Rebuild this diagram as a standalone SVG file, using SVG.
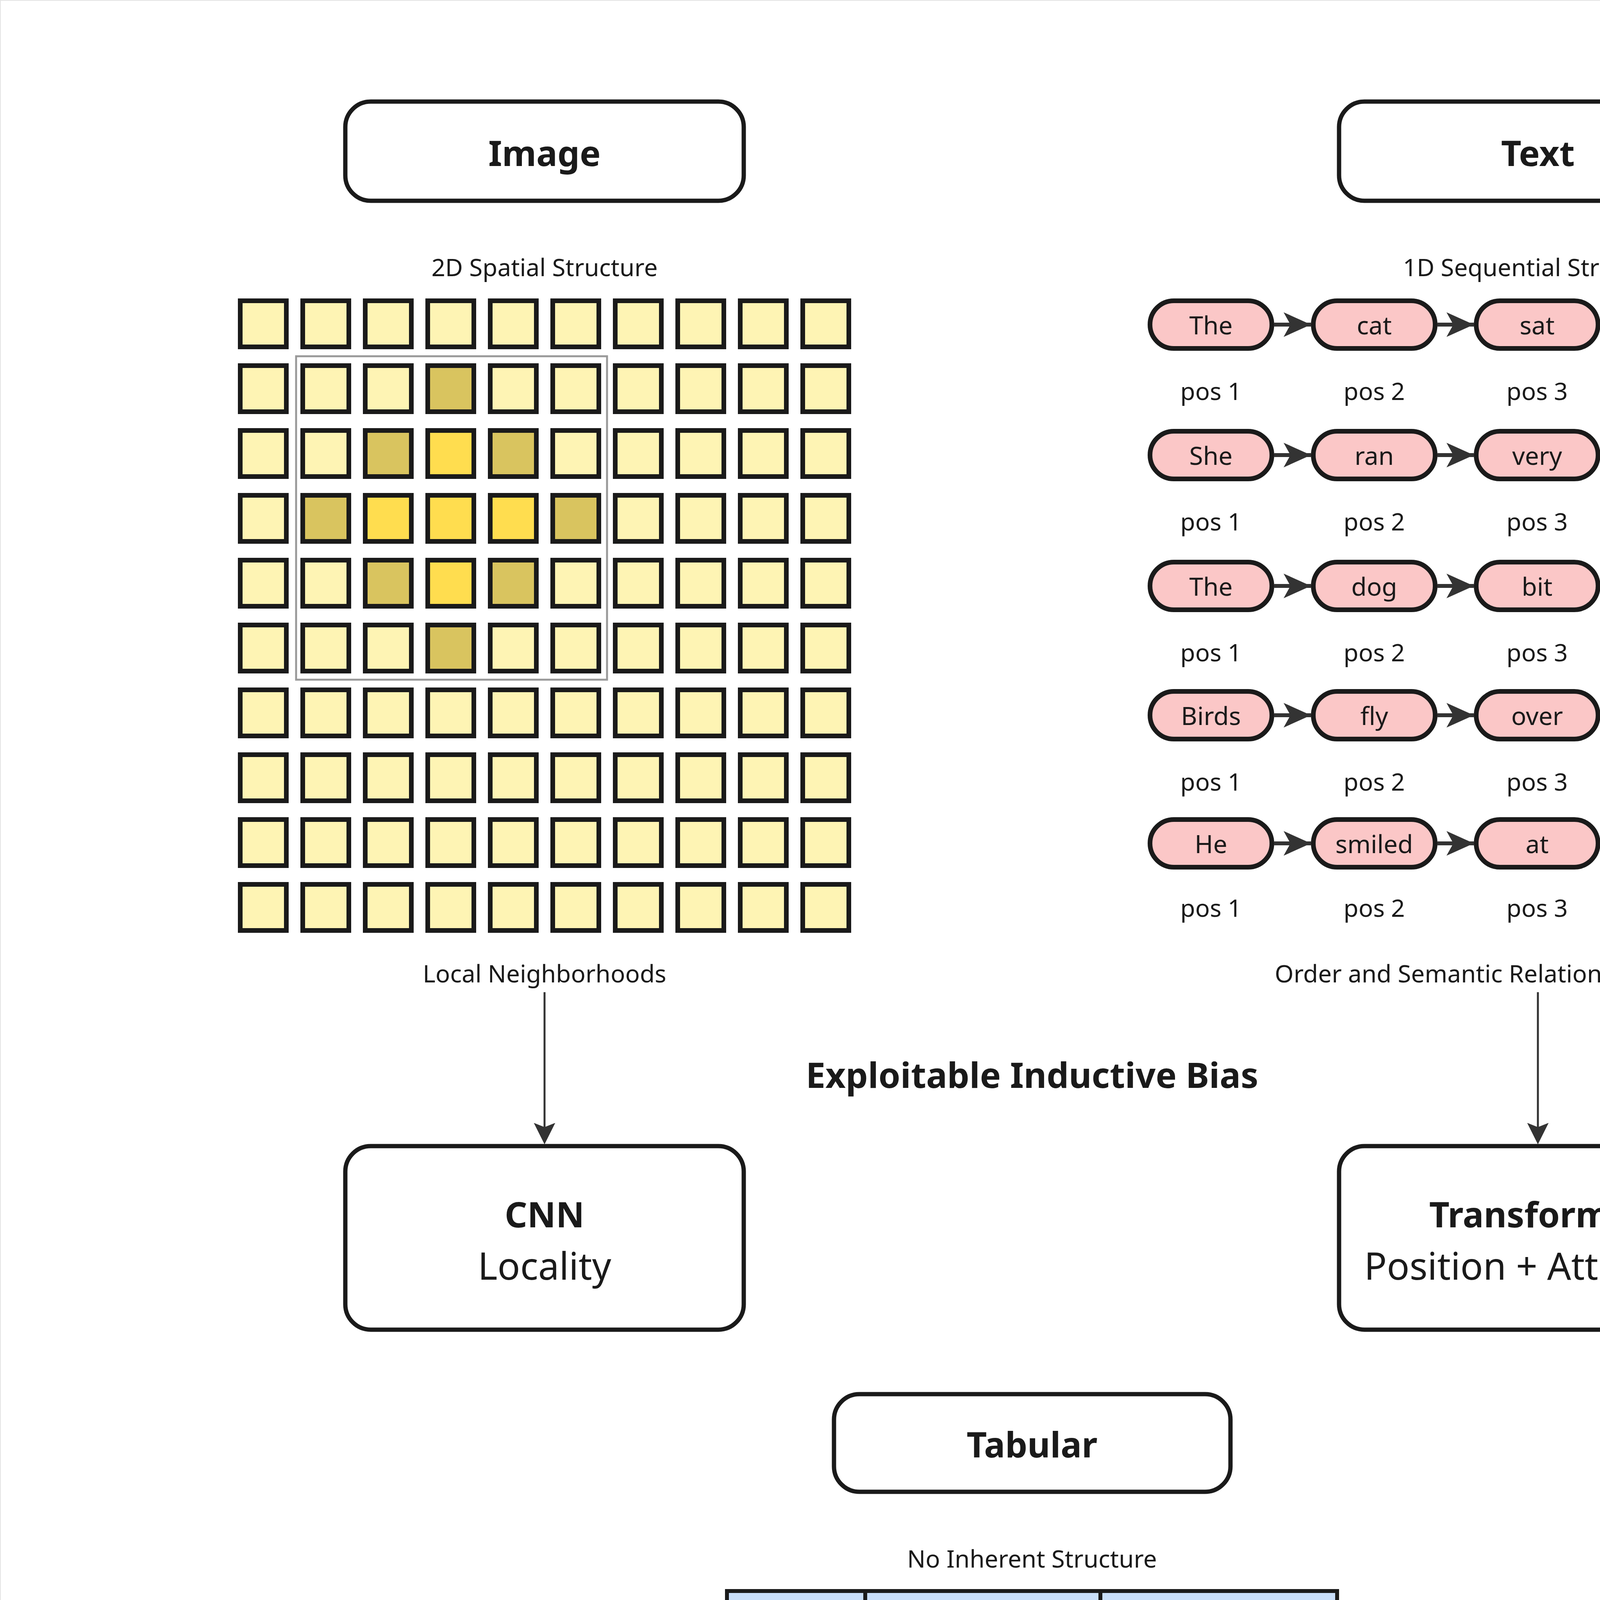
<svg xmlns="http://www.w3.org/2000/svg" width="5277" height="5222" viewBox="0 0 5277 5222">
<style>
text{font-family:"Noto Sans","Open Sans","Liberation Sans",sans-serif;fill:#1a1a1a;text-anchor:middle;dominant-baseline:central}
.box{fill:#fff;stroke:#1a1a1a;stroke-width:11}
.title{font-size:90px;font-weight:700}
.lbl{font-size:62px}
.big{font-size:96px}
.c{stroke:#1a1a1a;stroke-width:12}
.l{fill:#FEF4B4}.d{fill:#D9C45F}.b{fill:#FFDD4F}
.pill{fill:#FBC7C7;stroke:#1a1a1a;stroke-width:12}
.tok{font-size:64px}
.pos{font-size:62px}
.ar{stroke:#333;stroke-width:10;fill:none}
.tb{fill:#fff;stroke:#1a1a1a;stroke-width:10}
.th{fill:#C8DEF9;stroke:#1a1a1a;stroke-width:10}
.td{font-size:62px}
.thd{font-size:64px;font-weight:700}
</style>
<defs>
<marker id="ah" viewBox="0 0 10 10" refX="9" refY="5" markerWidth="11" markerHeight="12" markerUnits="strokeWidth" orient="auto">
<path d="M0,0 L10,5 L0,10 L2,5 Z" fill="#333"/>
</marker>
<marker id="ah2" viewBox="0 0 10 10" refX="10" refY="5" markerWidth="7" markerHeight="8" markerUnits="strokeWidth" orient="auto">
<path d="M0,0.5 L10,5 L0,9.5 L2.5,5 Z" fill="#333"/>
</marker>
</defs>
<rect x="0" y="0" width="5277" height="5222" fill="#fff" stroke="#e4e4e4" stroke-width="4"/>

<g id="image-header"><rect class="box" x="884" y="260" width="1020" height="254" rx="65"/><text class="title" x="1394" y="390">Image</text></g>
<g id="text-header"><rect class="box" x="3428" y="260" width="1018" height="254" rx="65"/><text class="title" x="3937" y="390">Text</text></g>
<text class="lbl" x="1394" y="683">2D Spatial Structure</text>
<text class="lbl" x="3937" y="683">1D Sequential Structure</text>

<g id="image-grid">
<g transform="translate(615,770)">
<rect class="c l" x="0" y="0" width="118" height="118"/><rect class="c l" x="160" y="0" width="118" height="118"/><rect class="c l" x="320" y="0" width="118" height="118"/><rect class="c l" x="480" y="0" width="118" height="118"/><rect class="c l" x="640" y="0" width="118" height="118"/><rect class="c l" x="800" y="0" width="118" height="118"/><rect class="c l" x="960" y="0" width="118" height="118"/><rect class="c l" x="1120" y="0" width="118" height="118"/><rect class="c l" x="1280" y="0" width="118" height="118"/><rect class="c l" x="1440" y="0" width="118" height="118"/>
</g>
<g transform="translate(615,936)">
<rect class="c l" x="0" y="0" width="118" height="118"/><rect class="c l" x="160" y="0" width="118" height="118"/><rect class="c l" x="320" y="0" width="118" height="118"/><rect class="c d" x="480" y="0" width="118" height="118"/><rect class="c l" x="640" y="0" width="118" height="118"/><rect class="c l" x="800" y="0" width="118" height="118"/><rect class="c l" x="960" y="0" width="118" height="118"/><rect class="c l" x="1120" y="0" width="118" height="118"/><rect class="c l" x="1280" y="0" width="118" height="118"/><rect class="c l" x="1440" y="0" width="118" height="118"/>
</g>
<g transform="translate(615,1102)">
<rect class="c l" x="0" y="0" width="118" height="118"/><rect class="c l" x="160" y="0" width="118" height="118"/><rect class="c d" x="320" y="0" width="118" height="118"/><rect class="c b" x="480" y="0" width="118" height="118"/><rect class="c d" x="640" y="0" width="118" height="118"/><rect class="c l" x="800" y="0" width="118" height="118"/><rect class="c l" x="960" y="0" width="118" height="118"/><rect class="c l" x="1120" y="0" width="118" height="118"/><rect class="c l" x="1280" y="0" width="118" height="118"/><rect class="c l" x="1440" y="0" width="118" height="118"/>
</g>
<g transform="translate(615,1268)">
<rect class="c l" x="0" y="0" width="118" height="118"/><rect class="c d" x="160" y="0" width="118" height="118"/><rect class="c b" x="320" y="0" width="118" height="118"/><rect class="c b" x="480" y="0" width="118" height="118"/><rect class="c b" x="640" y="0" width="118" height="118"/><rect class="c d" x="800" y="0" width="118" height="118"/><rect class="c l" x="960" y="0" width="118" height="118"/><rect class="c l" x="1120" y="0" width="118" height="118"/><rect class="c l" x="1280" y="0" width="118" height="118"/><rect class="c l" x="1440" y="0" width="118" height="118"/>
</g>
<g transform="translate(615,1434)">
<rect class="c l" x="0" y="0" width="118" height="118"/><rect class="c l" x="160" y="0" width="118" height="118"/><rect class="c d" x="320" y="0" width="118" height="118"/><rect class="c b" x="480" y="0" width="118" height="118"/><rect class="c d" x="640" y="0" width="118" height="118"/><rect class="c l" x="800" y="0" width="118" height="118"/><rect class="c l" x="960" y="0" width="118" height="118"/><rect class="c l" x="1120" y="0" width="118" height="118"/><rect class="c l" x="1280" y="0" width="118" height="118"/><rect class="c l" x="1440" y="0" width="118" height="118"/>
</g>
<g transform="translate(615,1600)">
<rect class="c l" x="0" y="0" width="118" height="118"/><rect class="c l" x="160" y="0" width="118" height="118"/><rect class="c l" x="320" y="0" width="118" height="118"/><rect class="c d" x="480" y="0" width="118" height="118"/><rect class="c l" x="640" y="0" width="118" height="118"/><rect class="c l" x="800" y="0" width="118" height="118"/><rect class="c l" x="960" y="0" width="118" height="118"/><rect class="c l" x="1120" y="0" width="118" height="118"/><rect class="c l" x="1280" y="0" width="118" height="118"/><rect class="c l" x="1440" y="0" width="118" height="118"/>
</g>
<g transform="translate(615,1766)">
<rect class="c l" x="0" y="0" width="118" height="118"/><rect class="c l" x="160" y="0" width="118" height="118"/><rect class="c l" x="320" y="0" width="118" height="118"/><rect class="c l" x="480" y="0" width="118" height="118"/><rect class="c l" x="640" y="0" width="118" height="118"/><rect class="c l" x="800" y="0" width="118" height="118"/><rect class="c l" x="960" y="0" width="118" height="118"/><rect class="c l" x="1120" y="0" width="118" height="118"/><rect class="c l" x="1280" y="0" width="118" height="118"/><rect class="c l" x="1440" y="0" width="118" height="118"/>
</g>
<g transform="translate(615,1932)">
<rect class="c l" x="0" y="0" width="118" height="118"/><rect class="c l" x="160" y="0" width="118" height="118"/><rect class="c l" x="320" y="0" width="118" height="118"/><rect class="c l" x="480" y="0" width="118" height="118"/><rect class="c l" x="640" y="0" width="118" height="118"/><rect class="c l" x="800" y="0" width="118" height="118"/><rect class="c l" x="960" y="0" width="118" height="118"/><rect class="c l" x="1120" y="0" width="118" height="118"/><rect class="c l" x="1280" y="0" width="118" height="118"/><rect class="c l" x="1440" y="0" width="118" height="118"/>
</g>
<g transform="translate(615,2098)">
<rect class="c l" x="0" y="0" width="118" height="118"/><rect class="c l" x="160" y="0" width="118" height="118"/><rect class="c l" x="320" y="0" width="118" height="118"/><rect class="c l" x="480" y="0" width="118" height="118"/><rect class="c l" x="640" y="0" width="118" height="118"/><rect class="c l" x="800" y="0" width="118" height="118"/><rect class="c l" x="960" y="0" width="118" height="118"/><rect class="c l" x="1120" y="0" width="118" height="118"/><rect class="c l" x="1280" y="0" width="118" height="118"/><rect class="c l" x="1440" y="0" width="118" height="118"/>
</g>
<g transform="translate(615,2264)">
<rect class="c l" x="0" y="0" width="118" height="118"/><rect class="c l" x="160" y="0" width="118" height="118"/><rect class="c l" x="320" y="0" width="118" height="118"/><rect class="c l" x="480" y="0" width="118" height="118"/><rect class="c l" x="640" y="0" width="118" height="118"/><rect class="c l" x="800" y="0" width="118" height="118"/><rect class="c l" x="960" y="0" width="118" height="118"/><rect class="c l" x="1120" y="0" width="118" height="118"/><rect class="c l" x="1280" y="0" width="118" height="118"/><rect class="c l" x="1440" y="0" width="118" height="118"/>
</g>
<rect x="758" y="912" width="796" height="828" fill="none" stroke="#999" stroke-width="5"/>
</g>
<text class="lbl" x="1394" y="2491">Local Neighborhoods</text>
<text class="lbl" x="3937" y="2491">Order and Semantic Relations Define Meaning</text>

<g id="tokens">
<g transform="translate(0,831)">
<rect class="pill" x="2944" y="-61" width="312" height="122" rx="61"/><text class="tok" x="3100" y="0">The</text>
<rect class="pill" x="3362" y="-61" width="312" height="122" rx="61"/><text class="tok" x="3518" y="0">cat</text>
<rect class="pill" x="3779" y="-61" width="312" height="122" rx="61"/><text class="tok" x="3935" y="0">sat</text>
<rect class="pill" x="4196" y="-61" width="312" height="122" rx="61"/><text class="tok" x="4352" y="0">down</text>
<rect class="pill" x="4614" y="-61" width="312" height="122" rx="61"/><text class="tok" x="4770" y="0">quietly</text>
<text class="pos" x="3100" y="169">pos 1</text><text class="pos" x="3518" y="169">pos 2</text><text class="pos" x="3935" y="169">pos 3</text><text class="pos" x="4352" y="169">pos 4</text><text class="pos" x="4770" y="169">pos 5</text>
</g>
<g transform="translate(0,1165)">
<rect class="pill" x="2944" y="-61" width="312" height="122" rx="61"/><text class="tok" x="3100" y="0">She</text>
<rect class="pill" x="3362" y="-61" width="312" height="122" rx="61"/><text class="tok" x="3518" y="0">ran</text>
<rect class="pill" x="3779" y="-61" width="312" height="122" rx="61"/><text class="tok" x="3935" y="0">very</text>
<rect class="pill" x="4196" y="-61" width="312" height="122" rx="61"/><text class="tok" x="4352" y="0">fast</text>
<rect class="pill" x="4614" y="-61" width="312" height="122" rx="61"/><text class="tok" x="4770" y="0">today</text>
<text class="pos" x="3100" y="169">pos 1</text><text class="pos" x="3518" y="169">pos 2</text><text class="pos" x="3935" y="169">pos 3</text><text class="pos" x="4352" y="169">pos 4</text><text class="pos" x="4770" y="169">pos 5</text>
</g>
<g transform="translate(0,1500)">
<rect class="pill" x="2944" y="-61" width="312" height="122" rx="61"/><text class="tok" x="3100" y="0">The</text>
<rect class="pill" x="3362" y="-61" width="312" height="122" rx="61"/><text class="tok" x="3518" y="0">dog</text>
<rect class="pill" x="3779" y="-61" width="312" height="122" rx="61"/><text class="tok" x="3935" y="0">bit</text>
<rect class="pill" x="4196" y="-61" width="312" height="122" rx="61"/><text class="tok" x="4352" y="0">him</text>
<rect class="pill" x="4614" y="-61" width="312" height="122" rx="61"/><text class="tok" x="4770" y="0">hard</text>
<text class="pos" x="3100" y="169">pos 1</text><text class="pos" x="3518" y="169">pos 2</text><text class="pos" x="3935" y="169">pos 3</text><text class="pos" x="4352" y="169">pos 4</text><text class="pos" x="4770" y="169">pos 5</text>
</g>
<g transform="translate(0,1831)">
<rect class="pill" x="2944" y="-61" width="312" height="122" rx="61"/><text class="tok" x="3100" y="0">Birds</text>
<rect class="pill" x="3362" y="-61" width="312" height="122" rx="61"/><text class="tok" x="3518" y="0">fly</text>
<rect class="pill" x="3779" y="-61" width="312" height="122" rx="61"/><text class="tok" x="3935" y="0">over</text>
<rect class="pill" x="4196" y="-61" width="312" height="122" rx="61"/><text class="tok" x="4352" y="0">the</text>
<rect class="pill" x="4614" y="-61" width="312" height="122" rx="61"/><text class="tok" x="4770" y="0">clouds</text>
<text class="pos" x="3100" y="169">pos 1</text><text class="pos" x="3518" y="169">pos 2</text><text class="pos" x="3935" y="169">pos 3</text><text class="pos" x="4352" y="169">pos 4</text><text class="pos" x="4770" y="169">pos 5</text>
</g>
<g transform="translate(0,2159)">
<rect class="pill" x="2944" y="-61" width="312" height="122" rx="61"/><text class="tok" x="3100" y="0">He</text>
<rect class="pill" x="3362" y="-61" width="312" height="122" rx="61"/><text class="tok" x="3518" y="0">smiled</text>
<rect class="pill" x="3779" y="-61" width="312" height="122" rx="61"/><text class="tok" x="3935" y="0">at</text>
<rect class="pill" x="4196" y="-61" width="312" height="122" rx="61"/><text class="tok" x="4352" y="0">the</text>
<rect class="pill" x="4614" y="-61" width="312" height="122" rx="61"/><text class="tok" x="4770" y="0">camera</text>
<text class="pos" x="3100" y="164">pos 1</text><text class="pos" x="3518" y="164">pos 2</text><text class="pos" x="3935" y="164">pos 3</text><text class="pos" x="4352" y="164">pos 4</text><text class="pos" x="4770" y="164">pos 5</text>
</g>
</g>

<g id="connectors">
<g class="ar" marker-end="url(#ah2)">
<path d="M3262,831H3356"/><path d="M3680,831H3773"/><path d="M4097,831H4190"/><path d="M4514,831H4608"/>
<path d="M3262,1165H3356"/><path d="M3680,1165H3773"/><path d="M4097,1165H4190"/><path d="M4514,1165H4608"/>
<path d="M3262,1500H3356"/><path d="M3680,1500H3773"/><path d="M4097,1500H4190"/><path d="M4514,1500H4608"/>
<path d="M3262,1831H3356"/><path d="M3680,1831H3773"/><path d="M4097,1831H4190"/><path d="M4514,1831H4608"/>
<path d="M3262,2159H3356"/><path d="M3680,2159H3773"/><path d="M4097,2159H4190"/><path d="M4514,2159H4608"/>
</g>
<path d="M1394,2540V2924" stroke="#333" stroke-width="5" fill="none" marker-end="url(#ah)"/>
<path d="M3937,2540V2924" stroke="#333" stroke-width="5" fill="none" marker-end="url(#ah)"/>
</g>

<text class="title" x="2642" y="2750">Exploitable Inductive Bias</text>

<g id="cnn"><rect class="box" x="884" y="2934" width="1020" height="470" rx="65"/><text class="title" x="1394" y="3107">CNN</text><text class="big" x="1394" y="3238">Locality</text></g>
<g id="transformer"><rect class="box" x="3428" y="2934" width="1018" height="470" rx="65"/><text class="title" x="3937" y="3107">Transformer</text><text class="big" x="3937" y="3238">Position + Attention</text></g>

<g id="tabular"><rect class="box" x="2135" y="3569" width="1015" height="250" rx="65"/><text class="title" x="2642" y="3696">Tabular</text></g>
<text class="lbl" x="2642" y="3989">No Inherent Structure</text>

<g id="table">
<rect class="th" x="1861" y="4073" width="354" height="126"/><rect class="th" x="2215" y="4073" width="602" height="126"/><rect class="th" x="2817" y="4073" width="606" height="126"/>
<text class="thd" x="2038" y="4138">Age</text><text class="thd" x="2516" y="4138">Income ($)</text><text class="thd" x="3120" y="4138">Loan Approved</text>
<g>
<rect class="tb" x="1861" y="4199" width="354" height="126"/><rect class="tb" x="2215" y="4199" width="602" height="126"/><rect class="tb" x="2817" y="4199" width="606" height="126"/>
<rect class="tb" x="1861" y="4325" width="354" height="126"/><rect class="tb" x="2215" y="4325" width="602" height="126"/><rect class="tb" x="2817" y="4325" width="606" height="126"/>
<rect class="tb" x="1861" y="4451" width="354" height="126"/><rect class="tb" x="2215" y="4451" width="602" height="126"/><rect class="tb" x="2817" y="4451" width="606" height="126"/>
<rect class="tb" x="1861" y="4577" width="354" height="126"/><rect class="tb" x="2215" y="4577" width="602" height="126"/><rect class="tb" x="2817" y="4577" width="606" height="126"/>
<rect class="tb" x="1861" y="4703" width="354" height="126"/><rect class="tb" x="2215" y="4703" width="602" height="126"/><rect class="tb" x="2817" y="4703" width="606" height="126"/>
</g>
<text class="td" x="2038" y="4263">34</text><text class="td" x="2516" y="4263">52,000</text><text class="td" x="3120" y="4263">Yes</text>
<text class="td" x="2038" y="4389">28</text><text class="td" x="2516" y="4389">38,000</text><text class="td" x="3120" y="4389">No</text>
<text class="td" x="2038" y="4515">61</text><text class="td" x="2516" y="4515">58,000</text><text class="td" x="3120" y="4515">No</text>
<text class="td" x="2038" y="4641">52</text><text class="td" x="2516" y="4641">67,000</text><text class="td" x="3120" y="4641">Yes</text>
<text class="td" x="2038" y="4767">23</text><text class="td" x="2516" y="4767">29,000</text><text class="td" x="3120" y="4767">No</text>
</g>
<text class="lbl" x="2642" y="4935">There is No Exploitable Inductive Bias</text>
</svg>
